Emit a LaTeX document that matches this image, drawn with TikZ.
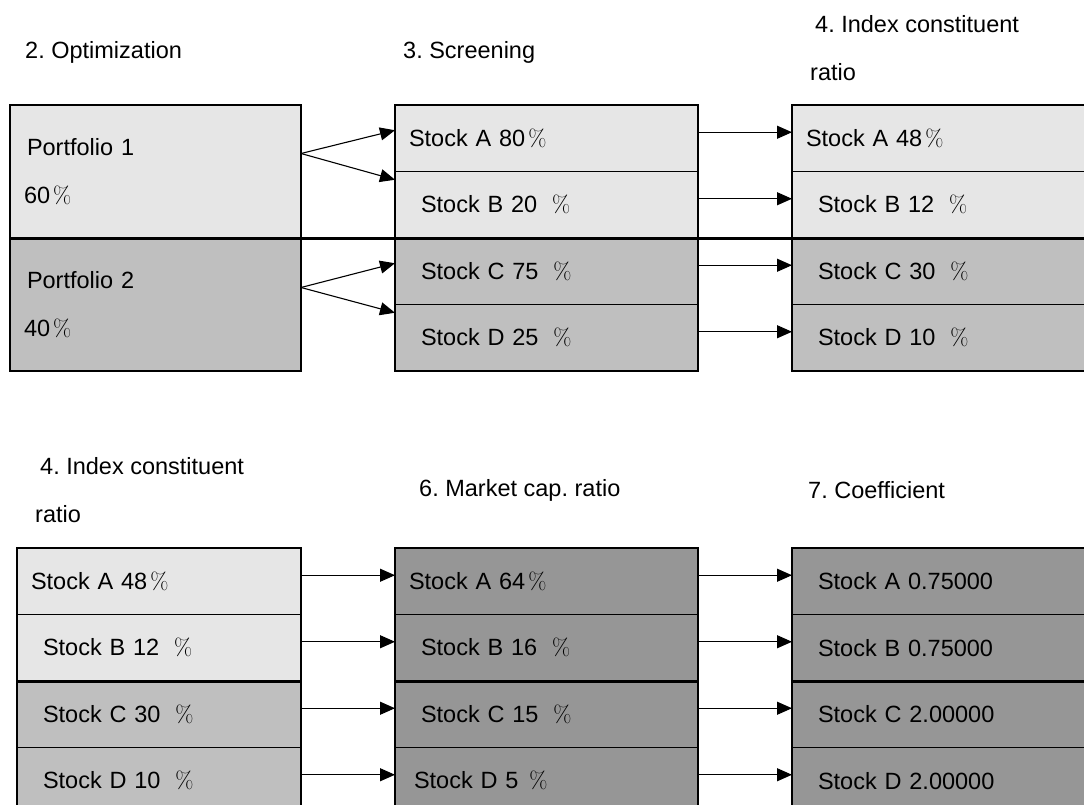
\documentclass[tikz,border=0pt]{standalone}
\usepackage{fontspec}
\setsansfont{Liberation Sans}
\renewcommand{\familydefault}{\sfdefault}
\frenchspacing
\usetikzlibrary{positioning}
\usetikzlibrary{arrows.meta}
\definecolor{fillone}{RGB}{230,230,230}
\definecolor{filltwo}{RGB}{191,191,191}
\definecolor{fillthree}{RGB}{150,150,150}
\newcommand{\pct}{\kern3pt{\rmfamily\%}}
\newcommand{\ind}{\hspace*{12pt}}
\tikzset{
    cell/.style = {rectangle, draw=black, line width=1.5pt, outer sep=0pt, inner xsep=14pt, minimum height=66.5pt, align=left, text width=#1, font=\fontsize{23.5pt}{48pt}\selectfont},
    cella/.style = {cell=#1, fill=fillone},
    cellb/.style = {cell=#1, fill=filltwo},
    cellc/.style = {cell=#1, fill=fillthree},
    heading/.style = {inner sep=0pt, anchor=west, align=left, font=\fontsize{23.5pt}{48pt}\selectfont},
    edgen/.style = {-{Triangle[length=15pt,width=13pt]}, line width=1.1pt, transform canvas={yshift=6pt}},
    edgef/.style = {-{Triangle[length=15pt,width=13pt]}, line width=1.1pt},
    divline/.style = {line width=3pt}
}

\begin{document}
\begin{tikzpicture}[x=1pt,y=-1pt]
\useasboundingbox (0,0) rectangle (1084,805);
\clip (0,0) rectangle (1084,805);
%
\node[heading] (h2) at (25,52) {2. Optimization};
\node[heading] (h3) at (403,52) {3. Screening};
\node[heading] (h4) at (810,48) {\hspace*{5pt}4. Index constituent\\ratio};
%
\node[cella=263pt, minimum height=133pt, anchor=north west] (p1) at (10,105) {\hspace*{3pt}Portfolio 1\\60\pct};
\node[cellb=263pt, minimum height=133pt, below=0pt of p1] (p2) {\hspace*{3pt}Portfolio 2\\40\pct};
%
\node[cella=275pt, anchor=north west] (sa) at (395,105) {Stock A 80\pct};
\node[cella=275pt, below=0pt of sa] (sb) {\ind Stock B 20\enspace\pct};
\node[cellb=275pt, below=0pt of sb] (sc) {\ind Stock C 75\enspace\pct};
\node[cellb=275pt, below=0pt of sc] (sd) {\ind Stock D 25\enspace\pct};
%
\node[cella=272pt, anchor=north west] (ia) at (792,105) {Stock A 48\pct};
\node[cella=272pt, below=0pt of ia] (ib) {\ind Stock B 12\enspace\pct};
\node[cellb=272pt, below=0pt of ib] (ic) {\ind Stock C 30\enspace\pct};
\node[cellb=272pt, below=0pt of ic] (id) {\ind Stock D 10\enspace\pct};
%
\coordinate (p1o) at ([yshift=18pt]p1.east);
\coordinate (p2o) at ([yshift=17pt]p2.east);
\draw[edgef] (p1o) -- ([yshift=8pt]sa.west);
\draw[edgef] (p1o) -- ([yshift=25pt]sb.west);
\draw[edgef] (p2o) -- ([yshift=8pt]sc.west);
\draw[edgef] (p2o) -- ([yshift=25pt]sd.west);
\draw[edgen] (sa) edge (ia) (sb) edge (ib) (sc) edge (ic) (sd) edge (id);
\draw[divline] (p1.south west) -- (ib.south east);
%
\node[heading] (h4b) at (35,490) {\hspace*{5pt}4. Index constituent\\ratio};
\node[heading] (h6) at (419,490) {6. Market cap. ratio};
\node[heading] (h7) at (808,490) {7. Coefficient};
%
\node[cella=256pt, anchor=north west] (ja) at (17,548) {Stock A 48\pct};
\node[cella=256pt, below=0pt of ja] (jb) {\ind Stock B 12\enspace\pct};
\node[cellb=256pt, below=0pt of jb] (jc) {\ind Stock C 30\enspace\pct};
\node[cellb=256pt, below=0pt of jc] (jd) {\ind Stock D 10\enspace\pct};
%
\node[cellc=275pt, anchor=north west] (ma) at (395,548) {Stock A 64\pct};
\node[cellc=275pt, below=0pt of ma] (mb) {\ind Stock B 16\enspace\pct};
\node[cellc=275pt, below=0pt of mb] (mc) {\ind Stock C 15\enspace\pct};
\node[cellc=275pt, below=0pt of mc] (md) {\hspace*{5pt}Stock D 5~\pct};
%
\node[cellc=272pt, anchor=north west] (ca) at (792,548) {\ind Stock A 0.75000};
\node[cellc=272pt, below=0pt of ca] (cb) {\ind Stock B 0.75000};
\node[cellc=272pt, below=0pt of cb] (cc) {\ind Stock C 2.00000};
\node[cellc=272pt, below=0pt of cc] (cd) {\ind Stock D 2.00000};
%
\draw[edgen] (ja) edge (ma) (jb) edge (mb) (jc) edge (mc) (jd) edge (md);
\draw[edgen] (ma) edge (ca) (mb) edge (cb) (mc) edge (cc) (md) edge (cd);
\draw[divline] (jb.south west) -- (jb.south east);
\draw[divline] (mb.south west) -- (mb.south east);
\draw[divline] (cb.south west) -- (cb.south east);

\end{tikzpicture}
\end{document}
